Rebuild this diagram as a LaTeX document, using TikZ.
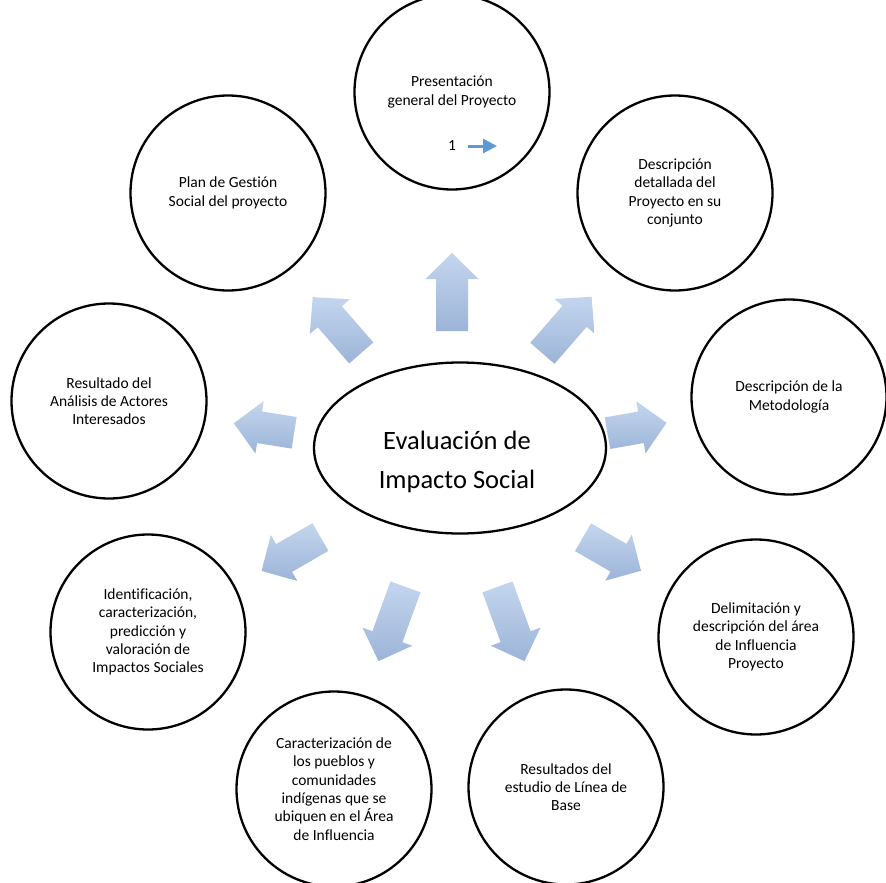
\documentclass[tikz,border=0pt]{standalone}
\usepackage{fontspec}
\setmainfont{Carlito}[Ligatures=CommonOff]
\usetikzlibrary{arrows.meta, positioning, shapes.geometric}

\definecolor{arrowtop}{RGB}{196,214,238}
\definecolor{arrowbottom}{RGB}{156,180,216}
\definecolor{pointerblue}{RGB}{91,155,213}

\begin{document}
\begin{tikzpicture}[x=1pt, y=-1pt,
    topic/.style={circle, draw, line width=2.3pt, minimum size=195pt, inner sep=0pt, align=center, font=\fontsize{15.5}{18.3}\selectfont},
    hub/.style={ellipse, draw, line width=2.3pt, minimum width=292pt, minimum height=171pt},
    hubtext/.style={align=center, font=\fontsize{26.5}{39}\selectfont},
    block/.style={top color=arrowtop, bottom color=arrowbottom, draw=none},
    pointer/.style={-{Triangle[length=14pt, width=14pt]}, line width=3pt, draw=pointerblue}]

                        \useasboundingbox (0,0) rectangle (886,883);

                        % Central ellipse
                        \node (hub) [hub] at (460,448) {};
                        \node (hubtext) [hubtext] at (457,462) {Evaluación de\\Impacto Social};

                        % Topics around the centre
                        \node (pres) [topic] at (452,92) {Presentación\\general del Proyecto};
                        \node (desc) [topic] at (675,193) {Descripción\\detallada del\\Proyecto en su\\conjunto};
                        \node (meto) [topic] at (789,397) {Descripción de la\\Metodología};
                        \node (area) [topic] at (756,637) {Delimitación y\\descripción del área\\de Influencia\\Proyecto};
                        \node (base) [topic] at (566,787) {Resultados del\\estudio de Línea de\\Base};
                        \node (pueb) [topic] at (334,789) {Caracterización de\\los pueblos y\\comunidades\\indígenas que se\\ubiquen en el Área\\de Influencia};
                        \node (impa) [topic] at (148,632) {Identificación,\\caracterización,\\predicción y\\valoración de\\Impactos Sociales};
                        \node (acto) [topic] at (109,401) {Resultado del\\Análisis de Actores\\Interesados};
                        \node (plan) [topic] at (228,193) {Plan de Gestión\\Social del proyecto};

                        % Small numbered pointer
                        \node (num) [font=\fontsize{15.5}{18}\selectfont] at (452,146) {1};
                        \coordinate (numtip) at (497,146);
                        \draw[pointer] ([xshift=9pt]num.east) -- (numtip);

                        % Block arrows pointing outwards
                        \foreach \cx/\cy/\ang/\len in {452/292/90/78, 567/325/49/75, 637/428/10/60,
                                612/554/-30/67, 511/624/-70/79, 392/624/-110/79,
                                291/554/210/68, 264/428/171/61, 337/325/131/74}
                        {
                            \path[block, shift={(\cx,\cy)}, rotate=\ang]
                                (-\len/2,-16) -- ({\len/2-26},-16) -- ({\len/2-26},-26.5) -- (\len/2,0)
                                -- ({\len/2-26},26.5) -- ({\len/2-26},16) -- (-\len/2,16) -- cycle;
                        }

                \end{tikzpicture}
\end{document}
